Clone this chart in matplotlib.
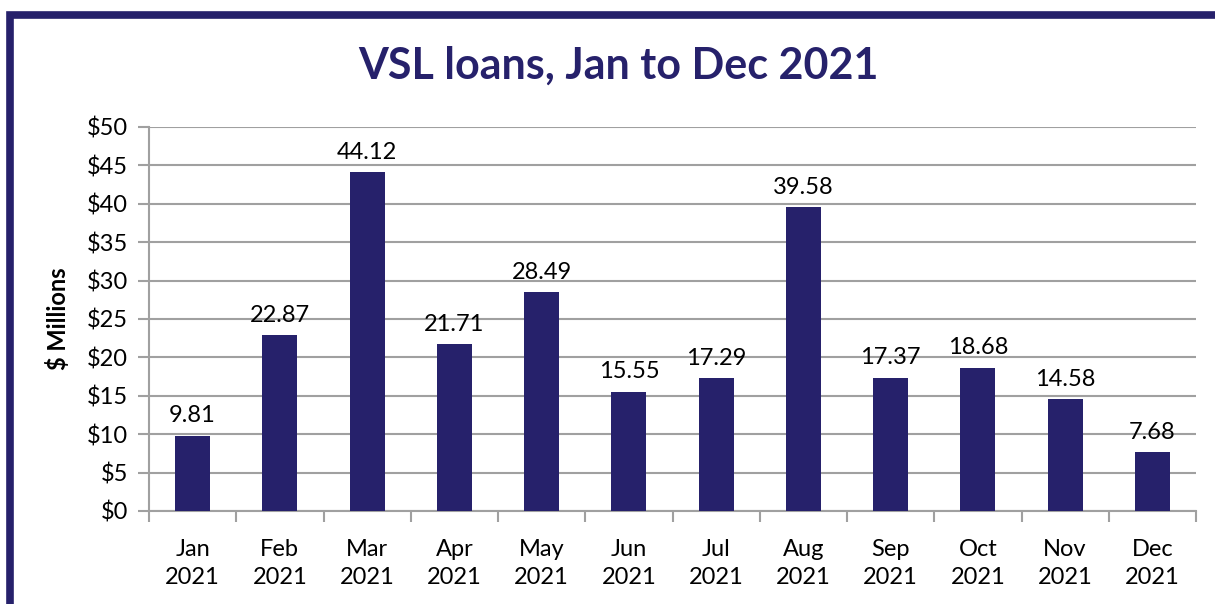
import matplotlib.pyplot as plt
from matplotlib.patches import Rectangle

months = ["Jan", "Feb", "Mar", "Apr", "May", "Jun", "Jul", "Aug", "Sep", "Oct", "Nov", "Dec"]
year = "2021"
loans = [9.81, 22.87, 44.12, 21.71, 28.49, 15.55, 17.29, 39.58, 17.37, 18.68, 14.58, 7.68]
yticks = [0, 5, 10, 15, 20, 25, 30, 35, 40, 45, 50]

navy = "#26216b"
plt.rcParams['font.family'] = ['Lato', 'DejaVu Sans']

fig = plt.figure(figsize=(12.15, 6.04), dpi=100)
fig.patch.set_facecolor('white')

# border of the chart frame (top and left visible)
top = 1 - 14.5 / 604
fig.add_artist(Rectangle((10.5 / 1215, top - 2.0), 2.0, 2.0, transform=fig.transFigure,
                         fill=False, edgecolor=navy, linewidth=5.5))

ax = fig.add_axes([149 / 1215, 1 - 511 / 604, (1196 - 149) / 1215, (511 - 127) / 604])
x = list(range(len(months)))
ax.bar(x, loans, width=0.4, color=navy, zorder=3)
for xi, v in zip(x, loans):
    ax.text(xi, v + 1.2, f"{v:.2f}", ha='center', va='bottom', fontsize=17)

ax.set_xlim(-0.5, len(months) - 0.5)
ax.set_ylim(0, 50)
ax.set_yticks(yticks)
ax.set_yticklabels([f"${t}" for t in yticks], fontsize=17)
ax.set_xticks(x)
ax.set_xticklabels([f"{m}\n{year}" for m in months], fontsize=17, linespacing=1.45)
ax.tick_params(axis='x', length=0, pad=20)
ax.set_xticks([i - 0.5 for i in range(len(months) + 1)], minor=True)
ax.tick_params(axis='x', which='minor', length=8, color='#a0a0a0', width=1.5)
ax.tick_params(axis='y', length=8, color='#a0a0a0', width=1.5, pad=7)
ax.grid(axis='y', color='#a0a0a0', linewidth=1.5, zorder=0)
for s in ['top', 'right']:
    ax.spines[s].set_visible(False)
for s in ['left', 'bottom']:
    ax.spines[s].set_color('#a0a0a0')
    ax.spines[s].set_linewidth(1.5)

ax.set_ylabel("$ Millions", fontsize=17, fontweight='bold', labelpad=12)
fig.text(618 / 1215, 1 - 66 / 604, "VSL loans, Jan to Dec 2021", ha='center', va='center',
         fontsize=31, fontweight='bold', color=navy)

fig.savefig("out.png", dpi=100, facecolor='white')
